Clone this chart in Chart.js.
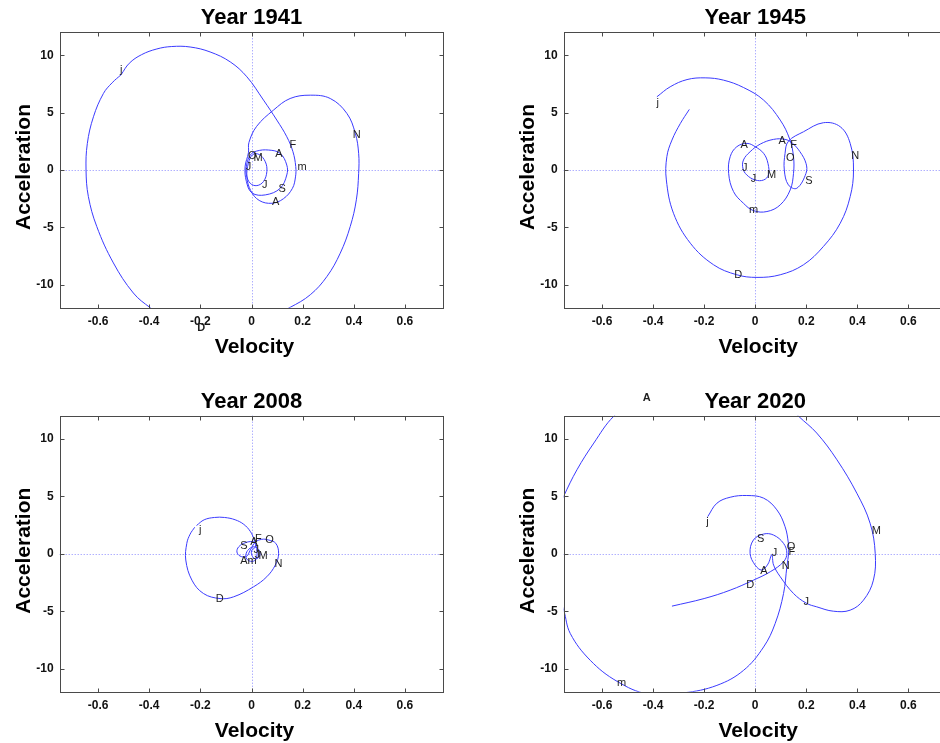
<!DOCTYPE html>
<html>
<head>
<meta charset="utf-8">
<script src="https://cdn.jsdelivr.net/npm/chart.js@4.4.1/dist/chart.umd.min.js"></script>
<style>
  html, body { margin: 0; padding: 0; background: #fff; }
  body { width: 940px; height: 743px; overflow: hidden; position: relative; }
  canvas { position: absolute; display: block; }
</style>
</head>
<body>
<canvas id="c1941" width="470" height="372" style="left:0;top:0"></canvas>
<canvas id="c1945" width="490" height="372" style="left:470px;top:0"></canvas>
<canvas id="c2008" width="470" height="371" style="left:0;top:372px"></canvas>
<canvas id="c2020" width="490" height="371" style="left:470px;top:372px"></canvas>
<script>
// Month markers, in calendar order
const months = ['j', 'F', 'm', 'A', 'M', 'J', 'J', 'A', 'S', 'O', 'N', 'D'];
const velocityTicks = [-0.6, -0.4, -0.2, 0, 0.2, 0.4, 0.6];
const accelerationTicks = [-10, -5, 0, 5, 10];

// 1941 phase-plane path (velocity, acceleration), January to December
const vel1941 = [-0.51, -0.478, -0.43, -0.37, -0.312, -0.24, -0.162, -0.083, -0.018, 0.047, 0.099, 0.138, 0.162, 0.173, 0.172, 0.16, 0.125, 0.08, 0.03, -0.003, -0.018, -0.012, 0.005, 0.03, 0.054, 0.06, 0.047, 0.021, -0.005, -0.02, -0.02, -0.005, 0.02, 0.067, 0.112, 0.138, 0.138, 0.112, 0.054, 0.002, -0.02, -0.025, -0.012, -0.01, 0.02, 0.086, 0.151, 0.23, 0.308, 0.373, 0.406, 0.419, 0.419, 0.41, 0.386, 0.347, 0.295, 0.23, 0.151, 0.06, -0.05, -0.15, -0.24, -0.32, -0.396, -0.462, -0.54, -0.605, -0.638, -0.647, -0.642, -0.618, -0.579, -0.545, -0.51];
const acc1941 = [8.3, 9.3, 10.05, 10.55, 10.76, 10.72, 10.29, 9.42, 8.12, 6.09, 4.35, 2.9, 1.6, 0.3, -0.6, -1.6, -2.5, -2.9, -2.65, -1.8, -0.6, 0.6, 1.35, 1.35, 0.72, -0.14, -1.0, -1.36, -1.16, -0.4, 0.35, 1.3, 1.65, 1.74, 1.45, 0.43, -0.43, -1.6, -2.17, -2.0, -1.0, 0.3, 1.5, 2.4, 3.8, 5.22, 6.23, 6.52, 6.23, 4.93, 3.19, 1.45, -0.29, -2.6, -4.93, -7.25, -9.28, -10.87, -11.97, -12.9, -13.5, -13.8, -13.7, -13.1, -12.0, -10.72, -8.1, -4.93, -2.3, 0, 2.3, 4.64, 6.67, 7.6, 8.3];
const labelVel1941 = [-0.514, 0.149, 0.18, 0.08, 0.008, -0.022, 0.041, 0.093, 0.106, -0.014, 0.396, -0.212];
const labelAcc1941 = [8.7, 2.2, 0.29, -2.8, 1.04, 0.26, -1.3, 1.39, -1.65, 1.22, 3.04, -13.74];

// 1945
const vel1945 = [-0.385, -0.333, -0.267, -0.196, -0.124, -0.046, 0.033, 0.098, 0.135, 0.15, 0.15, 0.137, 0.098, 0.046, -0.007, -0.046, -0.085, -0.104, -0.098, -0.072, -0.032, 0.0, 0.033, 0.05, 0.052, 0.033, 0.0, -0.033, -0.048, -0.046, -0.02, 0.02, 0.072, 0.117, 0.145, 0.175, 0.199, 0.199, 0.163, 0.13, 0.114, 0.117, 0.13, 0.189, 0.267, 0.333, 0.372, 0.385, 0.372, 0.333, 0.267, 0.189, 0.098, 0.007, -0.072, -0.163, -0.254, -0.32, -0.348, -0.346, -0.326, -0.293, -0.258];
const acc1945 = [6.38, 7.25, 7.88, 8.03, 7.83, 7.19, 6.09, 4.35, 2.7, 1.16, -0.29, -1.74, -3.04, -3.62, -3.54, -2.9, -1.88, -0.29, 1.16, 2.03, 2.32, 2.03, 1.45, 0.58, -0.43, -0.87, -0.87, -0.43, 0.14, 0.87, 1.59, 2.26, 2.67, 2.67, 2.35, 1.6, 0.58, -0.29, -1.59, -1.3, 0, 1.45, 2.5, 3.33, 4.12, 3.77, 2.32, 0, -2.32, -4.64, -6.67, -8.26, -9.13, -9.36, -9.13, -8.26, -6.38, -3.77, -0.87, 1.16, 2.61, 4.06, 5.28];
const labelVel1945 = [-0.387, 0.137, -0.024, -0.058, 0.046, -0.017, -0.052, 0.091, 0.196, 0.121, 0.376, -0.082];
const labelAcc1945 = [5.86, 2.2, -3.5, 2.17, -0.41, -0.78, 0.2, 2.54, -0.94, 1.09, 1.22, -9.19];

// 2008
const vel2008 = [-0.215, -0.185, -0.145, -0.105, -0.064, -0.03, -0.005, 0.01, 0.02, 0.02, 0.008, -0.015, -0.022, -0.01, 0.012, 0.03, 0.032, 0.018, 0.004, 0.0, 0.012, 0.018, 0.005, -0.025, -0.05, -0.057, -0.045, -0.02, -0.005, 0.015, 0.04, 0.065, 0.095, 0.106, 0.093, 0.06, 0.008, -0.07, -0.123, -0.188, -0.233, -0.257, -0.253, -0.24, -0.222];
const acc2008 = [2.45, 2.95, 3.15, 3.15, 2.95, 2.55, 1.95, 1.25, 0.45, -0.3, -0.65, -0.55, -0.1, 0.4, 0.6, 0.3, -0.2, -0.45, -0.25, 0.25, 0.5, 0.85, 1.05, 0.95, 0.6, 0.15, -0.2, -0.25, 0.3, 1.0, 1.25, 1.2, 0.9, 0.0, -0.99, -2.0, -2.88, -3.75, -3.9, -3.46, -2.3, -0.55, 0.9, 1.7, 2.3];
const labelVel2008 = [-0.205, 0.014, -0.016, -0.044, 0.027, 0.008, 0.012, -0.005, -0.044, 0.054, 0.09, -0.14];
const labelAcc2008 = [2.06, 1.25, -0.6, -0.6, -0.2, 0.35, -0.15, 0.99, 0.7, 1.19, -0.9, -3.9];

// 2020
const vel2020 = [-0.186, -0.15, -0.098, -0.033, 0.033, 0.085, 0.117, 0.13, 0.131, 0.124, 0.111, 0.078, 0.033, -0.046, -0.15, -0.28, -0.42, -0.541, -0.646, -0.724, -0.75, -0.795, -0.81, -0.79, -0.75, -0.698, -0.632, -0.554, -0.45, -0.3, -0.15, 0.0, 0.1, 0.17, 0.241, 0.32, 0.398, 0.45, 0.47, 0.463, 0.424, 0.372, 0.306, 0.241, 0.2, 0.15, 0.098, 0.072, 0.065, 0.05, 0.026, 0.0, -0.02, -0.007, 0.033, 0.072, 0.111, 0.124, 0.111, 0.059, -0.007, -0.098, -0.2, -0.326];
const acc2020 = [3.22, 4.39, 4.91, 5.06, 4.83, 3.81, 2.35, 0.9, 0.12, -1.13, -3.46, -6.08, -8.11, -10.15, -11.45, -12.1, -12.2, -11.1, -9.27, -6.95, -4.9, -2, 0.5, 3, 5.0, 7.3, 9.62, 11.95, 13.6, 14.6, 15.0, 14.6, 13.5, 11.95, 10.49, 8.17, 5.26, 2.65, 0.03, -2.3, -4.04, -4.91, -5.0, -4.62, -4.3, -3.46, -2.0, -0.99, -0.1, -0.9, -1.42, -1.0, 0.03, 1.19, 1.71, 1.62, 0.9, 0.03, -0.7, -1.57, -2.3, -3.17, -3.9, -4.56];
const labelVel2020 = [-0.192, 0.13, -0.541, -0.44, 0.456, 0.189, 0.065, 0.02, 0.007, 0.124, 0.104, -0.035];
const labelAcc2020 = [2.79, 0.12, -11.25, 13.5, 1.98, -4.24, 0.09, -1.48, 1.25, 0.6, -1.08, -2.73];

const FONT = "'Liberation Sans', Arial, Helvetica, sans-serif";

// Axes box, inward tick marks, dotted zero lines, month markers and titles
const phasePlane = {
  id: 'phasePlane',
  beforeDatasetsDraw(chart) {
    const { ctx, chartArea: a, scales: { x, y } } = chart;
    ctx.save();
    ctx.strokeStyle = '#8c8cff';
    ctx.lineWidth = 1;
    ctx.setLineDash([1, 2]);
    const x0 = Math.round(x.getPixelForValue(0)) + 0.5;
    const y0 = Math.round(y.getPixelForValue(0)) + 0.5;
    ctx.beginPath();
    ctx.moveTo(x0, a.top); ctx.lineTo(x0, a.bottom);
    ctx.moveTo(a.left, y0); ctx.lineTo(a.right, y0);
    ctx.stroke();
    ctx.restore();
  },
  afterDatasetsDraw(chart, args, opts) {
    const { ctx, chartArea: a, scales: { x, y } } = chart;
    ctx.save();
    const L = Math.round(a.left) + 0.5, R = Math.round(a.right) + 0.5;
    const T = Math.round(a.top) + 0.5, B = Math.round(a.bottom) + 0.5;
    ctx.strokeStyle = '#4a4a4a';
    ctx.lineWidth = 1;
    ctx.strokeRect(L, T, R - L, B - T);
    ctx.beginPath();
    velocityTicks.forEach(v => {
      const px = Math.round(x.getPixelForValue(v)) + 0.5;
      ctx.moveTo(px, B); ctx.lineTo(px, B - 4);
      ctx.moveTo(px, T); ctx.lineTo(px, T + 4);
    });
    accelerationTicks.forEach(v => {
      const py = Math.round(y.getPixelForValue(v)) + 0.5;
      ctx.moveTo(L, py); ctx.lineTo(L + 4, py);
      ctx.moveTo(R, py); ctx.lineTo(R - 4, py);
    });
    ctx.stroke();

    // month markers
    const meta = chart.getDatasetMeta(1);
    ctx.textAlign = 'left';
    ctx.textBaseline = 'middle';
    ctx.fillStyle = '#1e1e1e';
    meta.data.forEach((pt, i) => {
      const inside = pt.x >= a.left && pt.x <= a.right && pt.y >= a.top && pt.y <= a.bottom;
      ctx.font = (inside ? '' : 'bold ') + '11px ' + FONT;
      ctx.fillText(months[i], pt.x, pt.y);
    });

    // titles
    const cx = (a.left + a.right) / 2;
    ctx.fillStyle = '#000';
    ctx.textAlign = 'center';
    ctx.textBaseline = 'alphabetic';
    ctx.font = 'bold 22px ' + FONT;
    ctx.fillText(opts.title, cx, a.top - 8);
    ctx.font = 'bold 21px ' + FONT;
    ctx.fillText('Velocity', cx + 3, a.bottom + 45);
    ctx.translate(a.left - 30, (a.top + a.bottom) / 2 - 3);
    ctx.rotate(-Math.PI / 2);
    ctx.fillText('Acceleration', 0, 0);
    ctx.restore();
  }
};

function phaseChart(id, title, vel, acc, labelVel, labelAcc, box) {
  const path = vel.map((v, i) => ({ x: v, y: acc[i] }));
  const marks = labelVel.map((v, i) => ({ x: v, y: labelAcc[i] }));
  const tickFont = { family: FONT, size: 12, weight: 'bold' };
  return new Chart(document.getElementById(id), {
    type: 'scatter',
    data: {
      datasets: [
        { data: path, showLine: true, borderColor: '#3b3bff', borderWidth: 1, pointRadius: 0, tension: 0.38, fill: false },
        { data: marks, showLine: false, pointRadius: 0 }
      ]
    },
    options: {
      responsive: false,
      animation: false,
      events: [],
      devicePixelRatio: 1,
      layout: { padding: { left: 0, top: box.padT, right: box.padR, bottom: box.padB } },
      elements: { line: { capBezierPoints: false } },
      plugins: { legend: { display: false }, tooltip: { enabled: false }, phasePlane: { title } },
      scales: {
        x: {
          type: 'linear', min: -0.75, max: 0.75,
          grid: { display: false, drawTicks: false, tickLength: 0 },
          border: { display: false },
          afterBuildTicks: s => { s.ticks = velocityTicks.map(v => ({ value: v })); },
          afterFit: s => { s.height = 40; },
          ticks: { padding: 7, font: tickFont, color: '#111', maxRotation: 0, autoSkip: false,
                   callback: v => (v === 0 ? '0' : Number(v).toFixed(1)) }
        },
        y: {
          type: 'linear', min: -12, max: 12,
          grid: { display: false, drawTicks: false, tickLength: 0 },
          border: { display: false },
          afterBuildTicks: s => { s.ticks = accelerationTicks.map(v => ({ value: v })); },
          afterFit: s => { s.width = box.yWidth; },
          ticks: { padding: 6, font: tickFont, color: '#111', autoSkip: false,
                   callback: v => String(v) }
        }
      }
    },
    plugins: [phasePlane]
  });
}

phaseChart('c1941', 'Year 1941', vel1941, acc1941, labelVel1941, labelAcc1941,
  { padT: 32.3, padR: 26.7, padB: 24.3, yWidth: 59.7 });
phaseChart('c1945', 'Year 1945', vel1945, acc1945, labelVel1945, labelAcc1945,
  { padT: 32.3, padR: 13.3, padB: 24.3, yWidth: 93.7 });
phaseChart('c2008', 'Year 2008', vel2008, acc2008, labelVel2008, labelAcc2008,
  { padT: 43.7, padR: 26.7, padB: 11.3, yWidth: 59.7 });
phaseChart('c2020', 'Year 2020', vel2020, acc2020, labelVel2020, labelAcc2020,
  { padT: 43.7, padR: 13.3, padB: 11.3, yWidth: 93.7 });
</script>
</body>
</html>
